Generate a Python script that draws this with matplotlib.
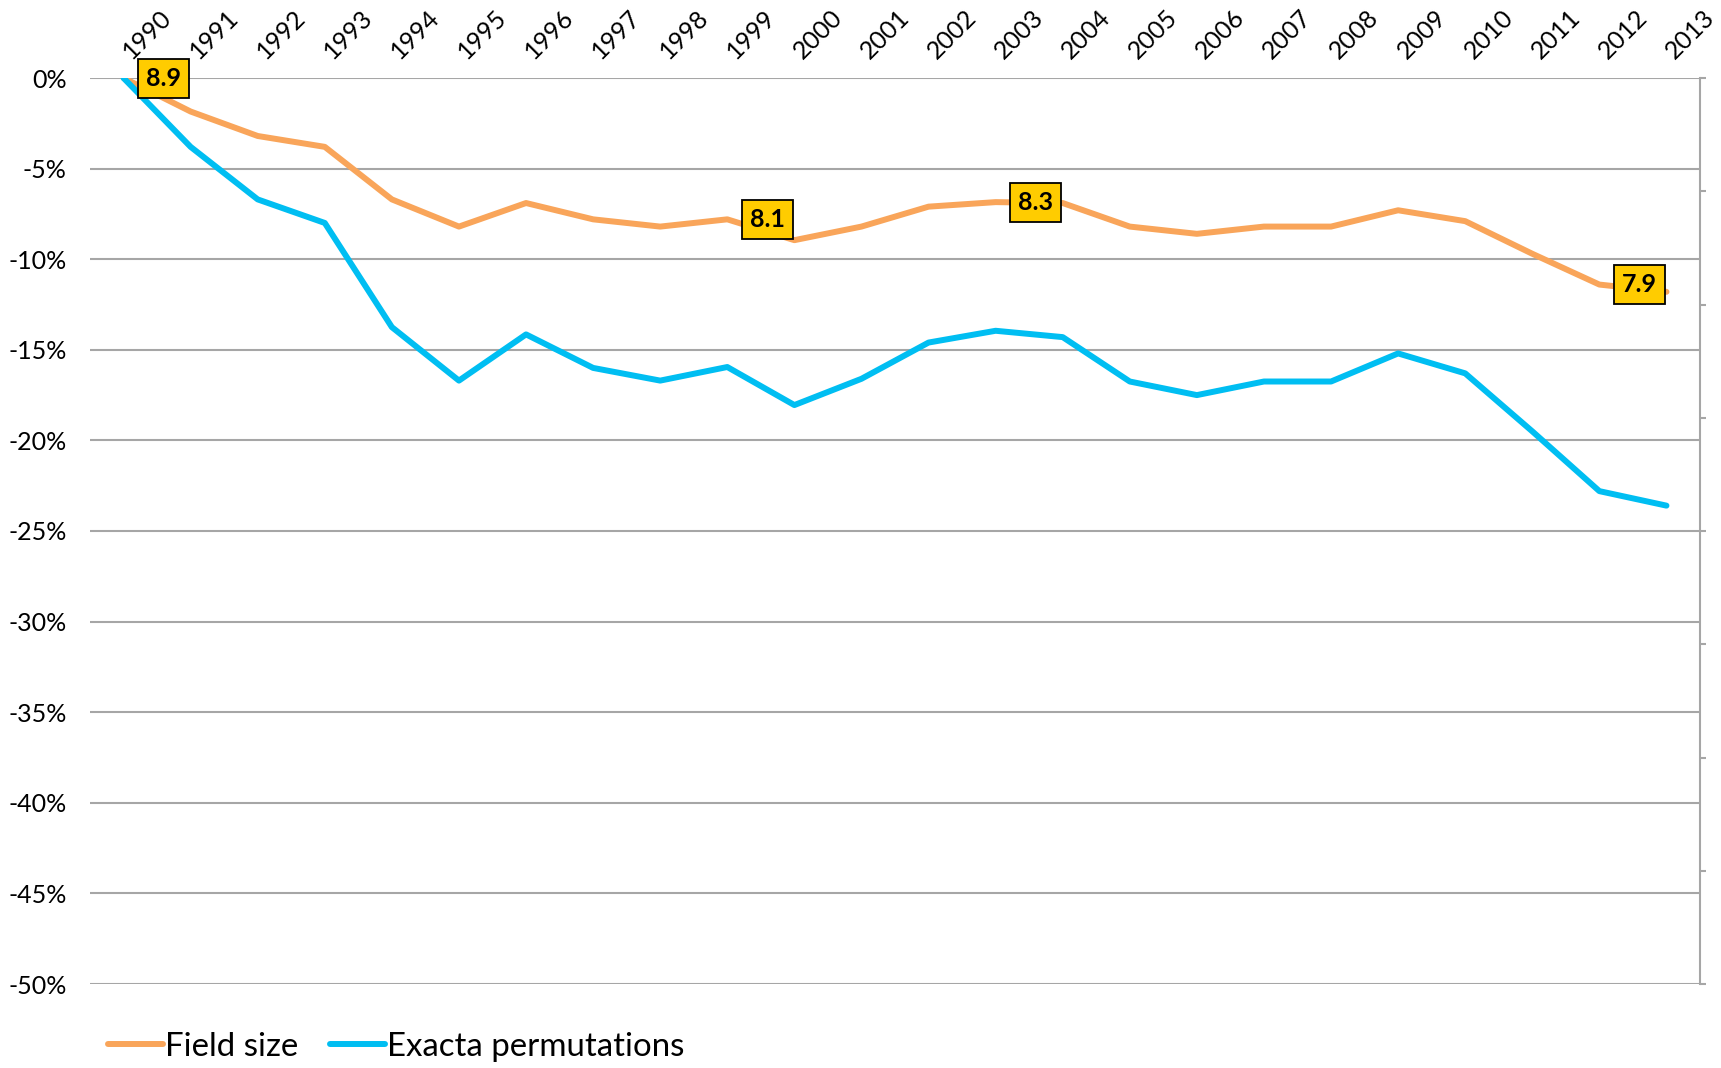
import matplotlib.pyplot as plt
import matplotlib.transforms as mtransforms
from matplotlib.ticker import FuncFormatter

plt.rcParams["font.family"] = ["Lato", "DejaVu Sans"]

years = [str(y) for y in range(1990, 2014)]
field_size = [0.0, -1.85, -3.2, -3.8, -6.7, -8.2, -6.9, -7.8, -8.2, -7.8,
              -8.95, -8.2, -7.1, -6.85, -6.9, -8.2, -8.6, -8.2, -8.2, -7.3,
              -7.9, -9.7, -11.4, -11.8]
exacta_perms = [0.0, -3.8, -6.7, -8.0, -13.75, -16.7, -14.15, -16.0, -16.7,
                -15.95, -18.05, -16.6, -14.6, -13.95, -14.3, -16.75, -17.5,
                -16.75, -16.75, -15.2, -16.3, -19.5, -22.8, -23.6]
# average field size shown in the callouts
label_years = ["1990", "1999", "2003", "2012"]
label_text = ["8.9", "8.1", "8.3", "7.9"]

orange = "#F9A55A"
blue = "#00BEF2"
grid_gray = "#A6A6A6"

fig = plt.figure(figsize=(17.21, 10.68), dpi=100)
ax = fig.add_axes([90 / 1721, 84 / 1068, 1610 / 1721, 906 / 1068])

x = list(range(len(years)))
ax.plot(x, field_size, color=orange, lw=4.3, solid_capstyle="round",
        solid_joinstyle="round", label="Field size", zorder=3)
ax.plot(x, exacta_perms, color=blue, lw=4.3, solid_capstyle="round",
        solid_joinstyle="round", label="Exacta permutations", zorder=3)

for yr, txt in zip(label_years, label_text):
    i = years.index(yr)
    ax.annotate(txt, (i, field_size[i]), xytext=(29, 0),
                textcoords="offset points", ha="center", va="center",
                fontsize=18, fontweight="bold", zorder=5,
                bbox=dict(boxstyle="square,pad=0.32", fc="#FFCC00",
                          ec="black", lw=1.3))

ax.set_xlim(-0.5, len(years) - 0.5)
ax.set_ylim(-50, 0)
ax.set_yticks(range(-50, 1, 5))
ax.yaxis.set_major_formatter(FuncFormatter(lambda v, _: f"{int(v)}%"))
ax.yaxis.grid(True, color=grid_gray, lw=1.5)
ax.set_axisbelow(True)

ax.xaxis.tick_top()
ax.set_xticks(x)
ax.set_xticklabels(years, rotation=45, ha="left", va="bottom",
                   rotation_mode="anchor", fontsize=18)
ax.tick_params(axis="x", length=0, pad=11)
ax.tick_params(axis="y", length=0, pad=17, labelsize=18)
shift = mtransforms.ScaledTranslation(8 / 72, 0, fig.dpi_scale_trans)
for lbl in ax.get_xticklabels():
    lbl.set_transform(lbl.get_transform() + shift)

for side in ["left", "top", "bottom", "right"]:
    ax.spines[side].set_visible(False)

# unlabeled secondary axis on the right
ax2 = ax.twinx()
ax2.set_ylim(0, 8)
ax2.set_yticks(range(9))
ax2.set_yticklabels([])
ax2.tick_params(axis="y", length=4, color=grid_gray, width=1.5)
for side in ["left", "top", "bottom"]:
    ax2.spines[side].set_visible(False)
ax2.spines["right"].set_color(grid_gray)
ax2.spines["right"].set_linewidth(1.5)

handles, labels = ax.get_legend_handles_labels()
fig.legend(handles, labels, loc="center left",
           bbox_to_anchor=(95 / 1721, 1 - 1047 / 1068), ncol=2,
           frameon=False, fontsize=23.8, handlelength=1.65, handletextpad=0.08,
           columnspacing=0.95, borderaxespad=0)

fig.savefig("out.png", dpi=100)
